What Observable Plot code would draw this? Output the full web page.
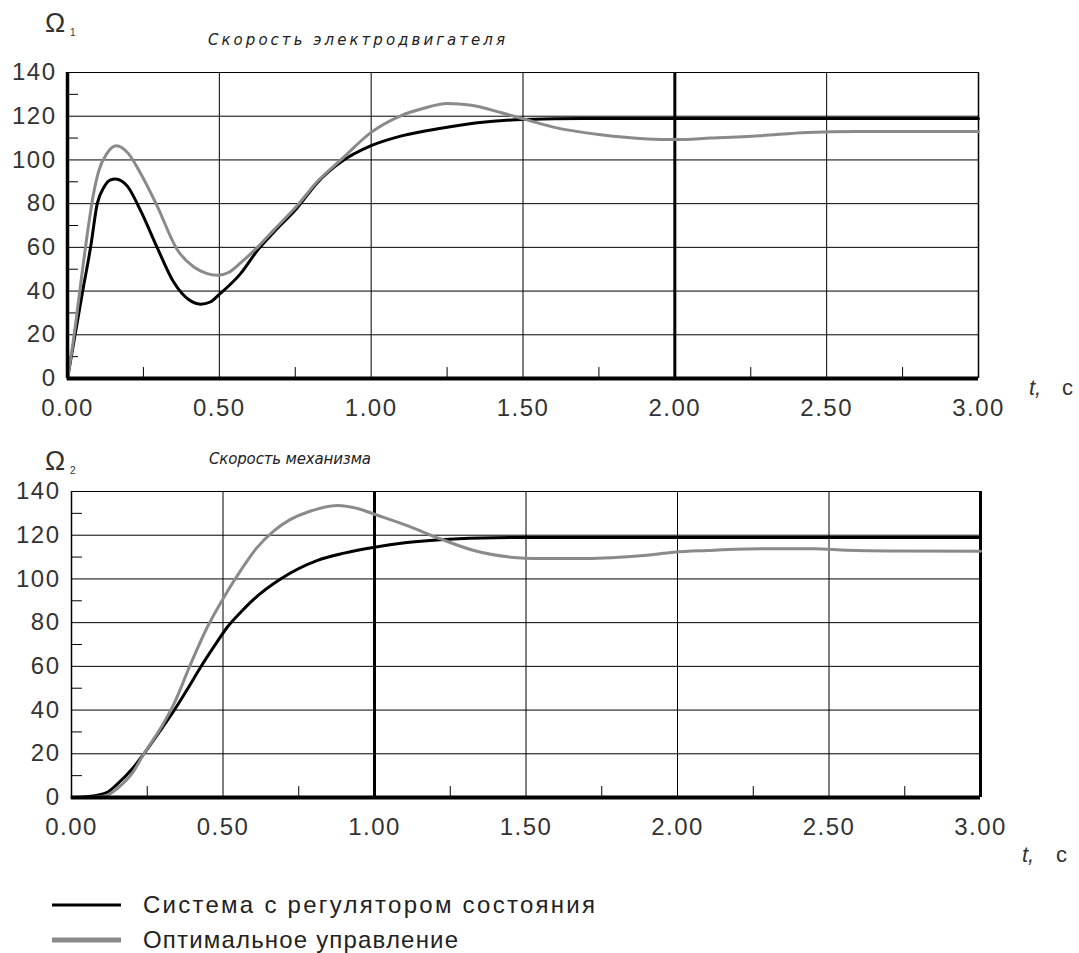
<!DOCTYPE html>
<html>
<head>
<meta charset="utf-8">
<script src="https://cdn.jsdelivr.net/npm/d3@7"></script>
<script src="https://cdn.jsdelivr.net/npm/@observablehq/plot@0.6"></script>
<style>
  html, body { margin: 0; padding: 0; background: #fff; }
  #wrap { position: relative; width: 1079px; height: 953px; overflow: hidden; background: #fff; }
  #wrap svg { position: absolute; left: 0; }
</style>
</head>
<body>
<div id="wrap"></div>
<script>
// ---------- data ----------
const xMajor = [0, 0.5, 1, 1.5, 2, 2.5, 3];
const xMinor = [0.25, 0.75, 1.25, 1.75, 2.25, 2.75];
const yMajor = [0, 20, 40, 60, 80, 100, 120, 140];
const yMinor = [10, 30, 50, 70, 90, 110, 130];

const seriesNames = ["Система с регулятором состояния", "Оптимальное управление"];
const chartTitles = ["Скорость электродвигателя", "Скорость механизма"];

// Motor speed, state regulator
const tMotorState = [0, 0.02, 0.05, 0.076, 0.098, 0.12, 0.14, 0.158, 0.197, 0.24, 0.295, 0.35, 0.4, 0.438, 0.47, 0.5, 0.57, 0.625, 0.68, 0.756, 0.822, 0.9, 1.0, 1.1, 1.23, 1.35, 1.5, 1.7, 2.0, 2.5, 3.0];
const motorState  = [0, 16, 40, 60, 80, 87.5, 90.8, 91.3, 88, 77, 60, 44, 36, 34, 35, 38.5, 48, 58.5, 67, 78, 89.5, 99, 106.5, 111, 114.5, 117, 118.5, 119, 119, 119, 119];

// Motor speed, optimal control
const tMotorOpt = [0, 0.02, 0.045, 0.065, 0.085, 0.103, 0.13, 0.161, 0.2, 0.24, 0.295, 0.361, 0.416, 0.46, 0.493, 0.53, 0.57, 0.625, 0.68, 0.756, 0.822, 0.9, 1.0, 1.097, 1.17, 1.25, 1.33, 1.426, 1.503, 1.6, 1.756, 1.909, 2.0, 2.118, 2.28, 2.436, 2.6, 3.0];
const motorOpt  = [0, 18, 45, 66, 84, 95, 103, 106.5, 103, 94, 79, 59, 51, 48, 47.2, 48.5, 52.9, 60, 68, 79, 90, 100, 112.6, 120.2, 123.5, 125.8, 125, 121.7, 118.7, 115, 111.5, 109.6, 109.3, 110, 111.1, 112.6, 113, 113];

// Mechanism speed, state regulator
const tMechState = [0, 0.05, 0.1, 0.118, 0.15, 0.2, 0.239, 0.3, 0.338, 0.38, 0.426, 0.47, 0.514, 0.56, 0.602, 0.69, 0.81, 0.9, 1.0, 1.1, 1.218, 1.35, 1.5, 1.7, 2.0, 3.0];
const mechState  = [0, 0.3, 1.5, 2.4, 6, 13, 20, 32, 39.7, 49, 59.6, 69, 77.9, 85, 90.8, 100, 108.4, 111.8, 114.5, 116.5, 117.9, 118.7, 119, 119, 119, 119];

// Mechanism speed, optimal control
const tMechOpt = [0, 0.05, 0.1, 0.118, 0.15, 0.2, 0.239, 0.3, 0.338, 0.393, 0.448, 0.503, 0.558, 0.61, 0.668, 0.72, 0.778, 0.877, 0.95, 0.998, 1.108, 1.218, 1.328, 1.46, 1.526, 1.65, 1.78, 1.889, 1.988, 2.098, 2.274, 2.45, 2.56, 2.7, 3.0];
const mechOpt  = [0, 0, 0.5, 1, 4, 11, 20, 33, 42.8, 61, 77.9, 91.6, 103.8, 114, 122, 127, 130.5, 133.6, 132, 129.7, 124.4, 118.3, 113, 109.8, 109.3, 109.3, 109.7, 110.7, 112.2, 113, 113.8, 113.8, 113.1, 112.8, 112.7];

// ---------- drawing ----------
const BLACK = "#000", GRAY = "#8a8a8a";
const toRows = (ts, vs) => ts.map((t, i) => ({t, v: vs[i]}));

function chart({top, height, mLeft, mRight, mTop, mBottom, state, opt, boldX, leftW, rightW}) {
  const svg = Plot.plot({
    width: 1079, height,
    marginLeft: mLeft, marginRight: mRight, marginTop: mTop, marginBottom: mBottom,
    x: {domain: [0, 3], label: null},
    y: {domain: [0, 140], label: null},
    style: {fontFamily: "'Liberation Sans', Arial, sans-serif", fontSize: "24px", color: "#333", background: "transparent", letterSpacing: "1.5px"},
    marks: [
      Plot.ruleX(xMajor, {stroke: BLACK, strokeWidth: 1}),
      Plot.ruleY(yMajor, {stroke: BLACK, strokeWidth: 1}),
      Plot.ruleY(yMinor, {x1: 0, x2: 0.036, stroke: BLACK, strokeWidth: 1}),
      Plot.ruleX(xMinor, {y1: 0, y2: 5, stroke: BLACK, strokeWidth: 1}),
      Plot.ruleX([boldX], {stroke: BLACK, strokeWidth: 3}),
      Plot.ruleX([3], {stroke: BLACK, strokeWidth: rightW}),
      Plot.line(state, {x: "t", y: "v", stroke: BLACK, strokeWidth: 3, curve: "monotone-x"}),
      Plot.line(opt, {x: "t", y: "v", stroke: GRAY, strokeWidth: 3, curve: "monotone-x"}),
      Plot.ruleX([0], {stroke: BLACK, strokeWidth: leftW}),
      Plot.ruleY([0], {stroke: BLACK, strokeWidth: 4}),
      Plot.axisY(yMajor, {tickSize: 0, tickPadding: 11, tickFormat: d => String(d), fill: "#333", label: null}),
      Plot.axisX(xMajor, {tickSize: 0, tickPadding: 20, tickFormat: d => d.toFixed(2), fill: "#333", label: null})
    ]
  });
  svg.style.top = top + "px";
  return svg;
}

const wrap = document.getElementById("wrap");
wrap.appendChild(chart({
  top: 0, height: 420, mLeft: 67, mRight: 101, mTop: 72, mBottom: 42,
  state: toRows(tMotorState, motorState), opt: toRows(tMotorOpt, motorOpt),
  boldX: 2, leftW: 3.5, rightW: 1.5
}));
wrap.appendChild(chart({
  top: 420, height: 420, mLeft: 71, mRight: 99, mTop: 71, mBottom: 43,
  state: toRows(tMechState, mechState), opt: toRows(tMechOpt, mechOpt),
  boldX: 1, leftW: 1.5, rightW: 3
}));

// ---------- labels & legend overlay ----------
const NS = "http://www.w3.org/2000/svg";
const ov = document.createElementNS(NS, "svg");
ov.setAttribute("width", 1079); ov.setAttribute("height", 953);
ov.style.top = "0px";
ov.style.pointerEvents = "none";
wrap.appendChild(ov);
function el(tag, attrs, text) {
  const e = document.createElementNS(NS, tag);
  for (const k in attrs) e.setAttribute(k, attrs[k]);
  if (text != null) e.textContent = text;
  ov.appendChild(e);
  return e;
}
const sans = "'Liberation Sans', Arial, sans-serif";
const dejavu = "'DejaVu Sans', sans-serif";
// Omega labels
el("text", {x: 45, y: 32, "font-family": sans, "font-size": 27, fill: "#333"}, "Ω");
el("text", {x: 70, y: 36, "font-family": sans, "font-size": 10, fill: "#333"}, "1");
el("text", {x: 45, y: 470, "font-family": sans, "font-size": 27, fill: "#333"}, "Ω");
el("text", {x: 70, y: 474, "font-family": sans, "font-size": 10, fill: "#333"}, "2");
// Titles
el("text", {x: 208, y: 45, "font-family": dejavu, "font-style": "italic", "font-size": 15, fill: "#222", textLength: 297, lengthAdjust: "spacing"}, chartTitles[0]);
el("text", {x: 209, y: 464, "font-family": dejavu, "font-style": "italic", "font-size": 15, fill: "#222", textLength: 162, lengthAdjust: "spacing"}, chartTitles[1]);
// Axis unit labels
function tLabel(x, y, cx) {
  const t = el("text", {x, y, "font-family": sans, "font-size": 22, fill: "#333"});
  const a = document.createElementNS(NS, "tspan"); a.setAttribute("font-style", "italic"); a.textContent = "t,"; t.appendChild(a);
  const b = document.createElementNS(NS, "tspan"); b.setAttribute("x", cx); b.textContent = "c"; t.appendChild(b);
}
tLabel(1029, 395, 1062);
tLabel(1022, 862, 1056);
// Legend
el("line", {x1: 52, x2: 121, y1: 905, y2: 905, stroke: BLACK, "stroke-width": 3});
el("text", {x: 143, y: 913, "font-family": sans, "font-size": 24, fill: "#222", textLength: 452, lengthAdjust: "spacing"}, seriesNames[0]);
el("line", {x1: 52, x2: 121, y1: 940, y2: 940, stroke: GRAY, "stroke-width": 5});
el("text", {x: 143, y: 948, "font-family": sans, "font-size": 24, fill: "#222", textLength: 315, lengthAdjust: "spacing"}, seriesNames[1]);
</script>
</body>
</html>
